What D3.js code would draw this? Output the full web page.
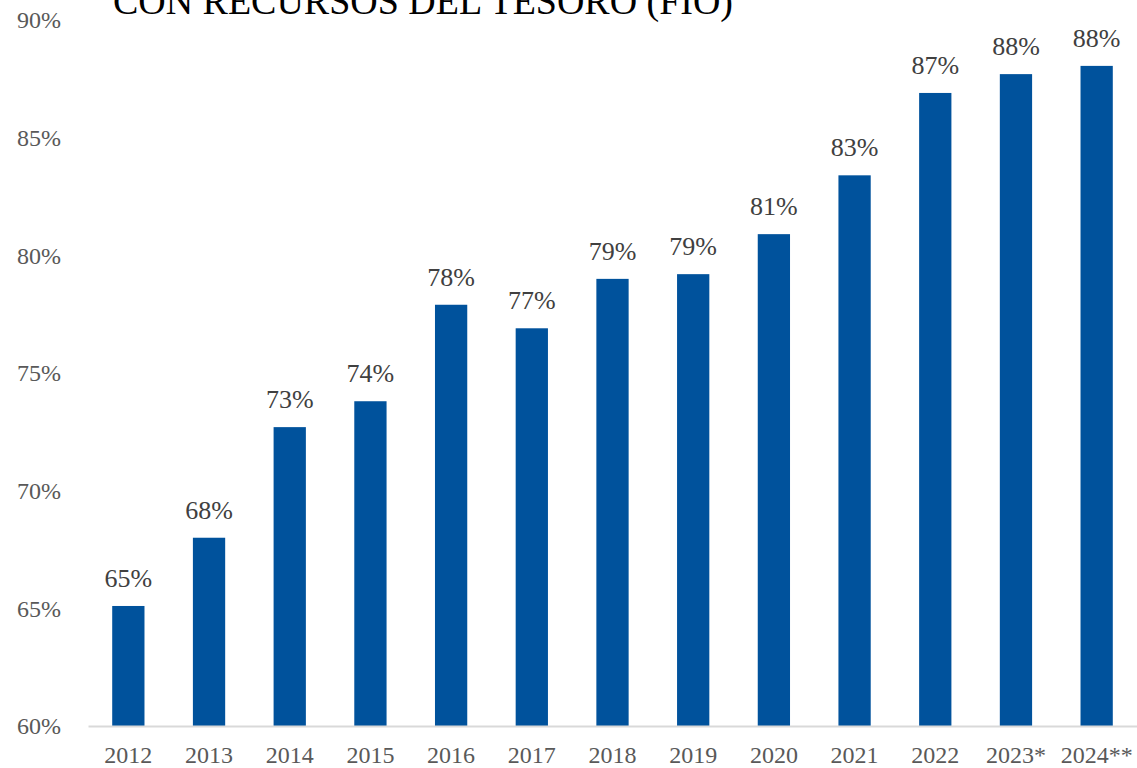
<!DOCTYPE html>
<meta charset="utf-8">
<style>
body { margin: 0; background: #fff; }
svg text { font-family: "Liberation Serif", "DejaVu Serif", serif; }
</style>
<body>
<svg id="chart" width="1137" height="768"></svg>
<script src="https://d3js.org/d3.v7.min.js"></script>
<script>
// data
var years = ["2012", "2013", "2014", "2015", "2016", "2017", "2018", "2019", "2020", "2021", "2022", "2023*", "2024**"];
var shares = [65.1, 68.0, 72.7, 73.8, 77.9, 76.9, 79.0, 79.2, 80.9, 83.4, 86.9, 87.7, 88.05];
var labels = ["65%", "68%", "73%", "74%", "78%", "77%", "79%", "79%", "81%", "83%", "87%", "88%", "88%"];
var yTicks = [60, 65, 70, 75, 80, 85, 90];
var title = "CON RECURSOS DEL TESORO (FIO)";

var svg = d3.select("#chart");

var x = d3.scaleBand()
    .domain(years)
    .range([88, 1137])
    .paddingInner(0.6)
    .paddingOuter(0.3);

var y = d3.scaleLinear()
    .domain([60, 90])
    .range([726, 20]);

// title (cut at the top like the original)
svg.append("text")
    .attr("x", 113)
    .attr("y", 14)
    .attr("font-size", 38)
    .attr("fill", "#000")
    .attr("textLength", 620)
    .attr("lengthAdjust", "spacingAndGlyphs")
    .text(title);

// y axis labels, no line
var yAxis = svg.append("g")
    .attr("transform", "translate(64,0)")
    .call(d3.axisLeft(y).tickValues(yTicks).tickSize(0).tickFormat(function(d) { return d + "%"; }));
yAxis.select(".domain").remove();
yAxis.selectAll("text")
    .attr("font-size", 24)
    .attr("fill", "#595959")
    .attr("font-family", "Liberation Serif");

// bars
svg.selectAll(".bar")
    .data(shares)
    .enter().append("rect")
    .attr("class", "bar")
    .attr("x", function(d, i) { return x(years[i]); })
    .attr("y", function(d) { return y(d); })
    .attr("width", x.bandwidth())
    .attr("height", function(d) { return y(60) - y(d); })
    .attr("fill", "#00529C");

// value labels
svg.selectAll(".val")
    .data(shares)
    .enter().append("text")
    .attr("class", "val")
    .attr("x", function(d, i) { return x(years[i]) + x.bandwidth() / 2; })
    .attr("y", function(d) { return y(d) - 19; })
    .attr("text-anchor", "middle")
    .attr("font-size", 26)
    .attr("fill", "#404040")
    .text(function(d, i) { return labels[i]; });

// x axis
var xAxis = svg.append("g")
    .attr("transform", "translate(0," + y(60) + ")")
    .call(d3.axisBottom(x).tickSize(0).tickPadding(20));
xAxis.select(".domain")
    .attr("stroke", "#d9d9d9")
    .attr("stroke-width", 2);
xAxis.selectAll("text")
    .attr("font-size", 24)
    .attr("fill", "#595959")
    .attr("font-family", "Liberation Serif");
</script>
</body>
